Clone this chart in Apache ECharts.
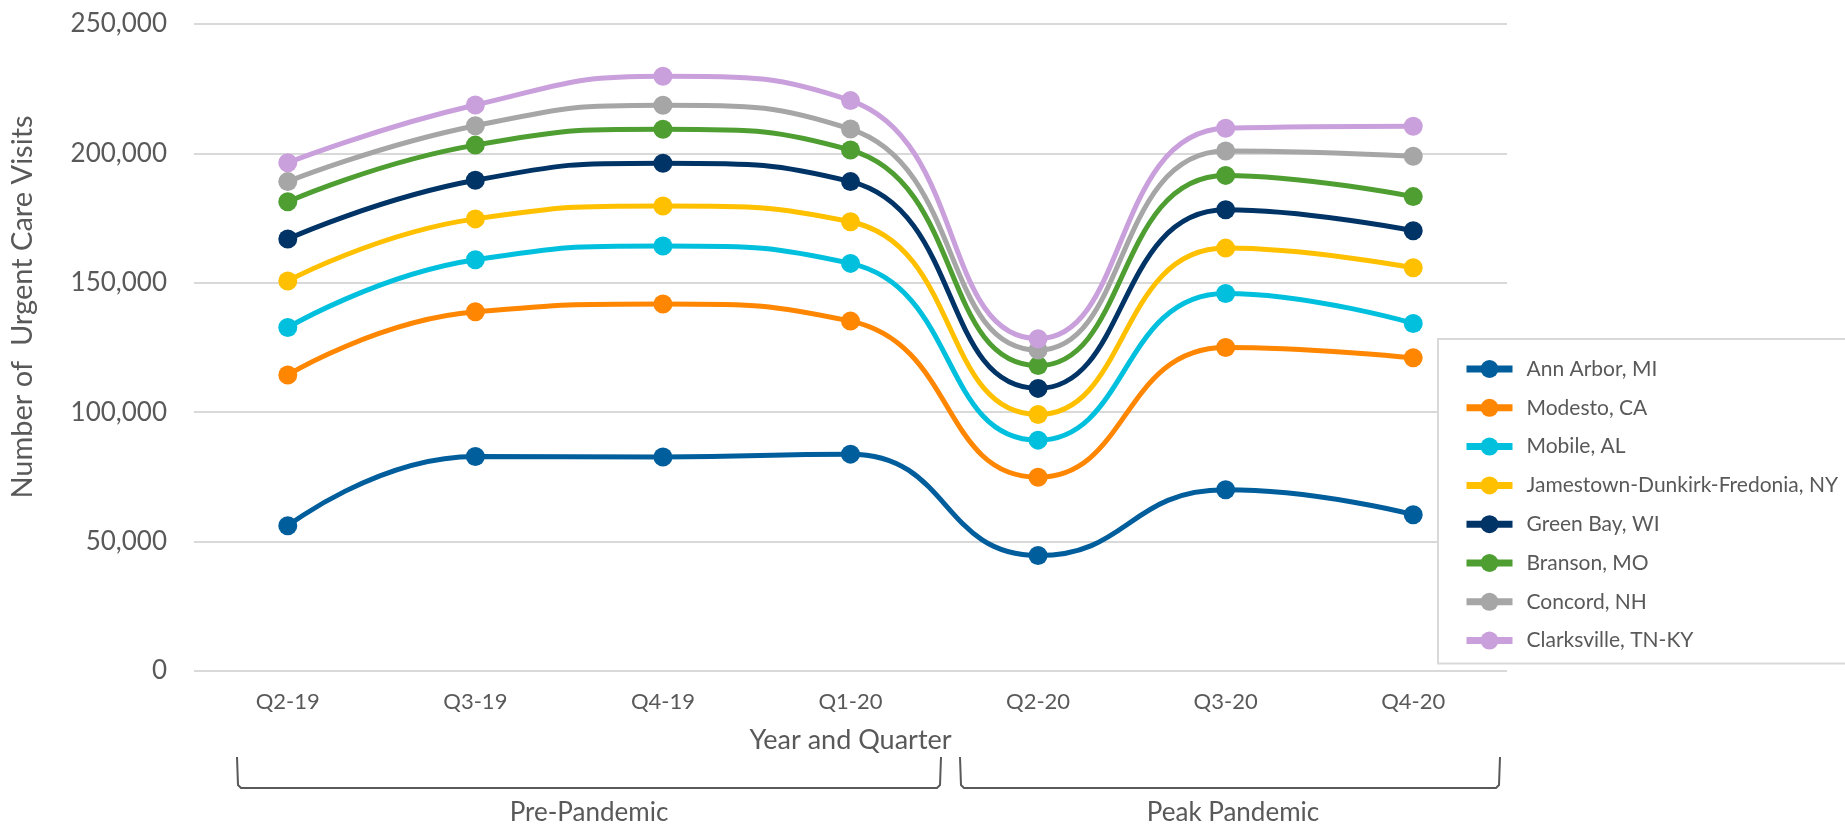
<!DOCTYPE html>
<html>
<head>
<meta charset="utf-8">
<script src="https://cdn.jsdelivr.net/npm/echarts@6/dist/echarts.min.js"></script>
<style>
  html, body { margin: 0; padding: 0; background: #fff; }
  #main { width: 1845px; height: 824px; }
</style>
</head>
<body>
<div id="main"></div>
<script>
// data
const quarters = ['Q2-19', 'Q3-19', 'Q4-19', 'Q1-20', 'Q2-20', 'Q3-20', 'Q4-20'];
const yTicks = [0, 50000, 100000, 150000, 200000, 250000];

const annArbor   = [56100, 82900, 82700, 83800, 44600, 70000, 60400];
const modesto    = [114400, 138800, 141800, 135200, 74900, 125000, 121000];
const mobile     = [132700, 158900, 164200, 157500, 89200, 145900, 134300];
const jamestown  = [150700, 174700, 179700, 173600, 99100, 163400, 155800];
const greenBay   = [166900, 189600, 196200, 189100, 109200, 178200, 170100];
const branson    = [181300, 203200, 209300, 201300, 118000, 191500, 183300];
const concord    = [189100, 210700, 218600, 209400, 124000, 200900, 198900];
const clarksville = [196400, 218700, 229800, 220400, 128400, 209700, 210500];

const cities = ['Ann Arbor, MI', 'Modesto, CA', 'Mobile, AL', 'Jamestown-Dunkirk-Fredonia, NY',
  'Green Bay, WI', 'Branson, MO', 'Concord, NH', 'Clarksville, TN-KY'];
const cityData = [annArbor, modesto, mobile, jamestown, greenBay, branson, concord, clarksville];
const colors = ['#005E9C', '#FF8600', '#00C0DE', '#FFC000', '#003366', '#4E9E32', '#A6A6A6', '#C9A0DC'];

const font = 'Lato, "Open Sans", sans-serif';
const grey = '#595959';

let myChart = echarts.init(document.getElementById('main'));

let series = cities.map((name, i) => ({
  name: name,
  type: 'line',
  data: cityData[i],
  smooth: 0.5,
  symbol: 'circle',
  symbolSize: 19,
  lineStyle: { width: 5, color: colors[i] },
  itemStyle: { color: colors[i] },
  emphasis: { disabled: true }
}));

// brackets under the axis
function bracket(x1, x2) {
  return {
    type: 'polyline',
    shape: { points: [[x1, 757], [x1 + 1, 785], [x1 + 4, 788], [x2 - 4, 788], [x2 - 1, 785], [x2, 757]] },
    style: { stroke: grey, lineWidth: 2, fill: null }
  };
}

let option = {
  animation: false,
  color: colors,
  grid: { left: 194, right: 338, top: 24, bottom: 153 },
  xAxis: {
    type: 'category',
    data: quarters,
    boundaryGap: true,
    axisLine: { show: false },
    axisTick: { show: false },
    axisLabel: { color: grey, fontSize: 22, fontFamily: font, margin: 20 },
    name: 'Year and Quarter',
    nameLocation: 'middle',
    nameGap: 56,
    nameTextStyle: { color: grey, fontSize: 27, fontFamily: font }
  },
  yAxis: {
    type: 'value',
    min: yTicks[0],
    max: yTicks[yTicks.length - 1],
    interval: 50000,
    axisLine: { show: false },
    axisTick: { show: false },
    axisLabel: {
      color: grey, fontSize: 26, fontFamily: font, margin: 27,
      formatter: v => v.toLocaleString('en-US')
    },
    splitLine: { lineStyle: { color: '#D9D9D9', width: 2 } }
  },
  legend: {
    orient: 'vertical',
    left: 1438,
    top: 339,
    padding: [19, 40, 12, 25],
    itemWidth: 46,
    itemHeight: 22.5,
    itemGap: 16.8,
    selectedMode: false,
    backgroundColor: '#fff',
    borderColor: '#D9D9D9',
    borderWidth: 2,
    lineStyle: { width: 7 },
    textStyle: { color: grey, fontSize: 21, fontFamily: font, lineHeight: 22, padding: [0, 0, 0, 9] },
    data: cities
  },
  graphic: [
    {
      type: 'text',
      x: 23, y: 307,
      rotation: Math.PI / 2,
      style: {
        text: 'Number of  Urgent Care Visits',
        fill: grey, fontSize: 29, fontFamily: font,
        align: 'center', verticalAlign: 'middle'
      }
    },
    bracket(237, 941),
    bracket(960, 1500),
    {
      type: 'text', x: 589, y: 813,
      style: { text: 'Pre-Pandemic', fill: grey, fontSize: 26, fontFamily: font, align: 'center', verticalAlign: 'middle' }
    },
    {
      type: 'text', x: 1233, y: 813,
      style: { text: 'Peak Pandemic', fill: grey, fontSize: 26, fontFamily: font, align: 'center', verticalAlign: 'middle' }
    }
  ],
  series: series
};

myChart.setOption(option);
</script>
</body>
</html>
